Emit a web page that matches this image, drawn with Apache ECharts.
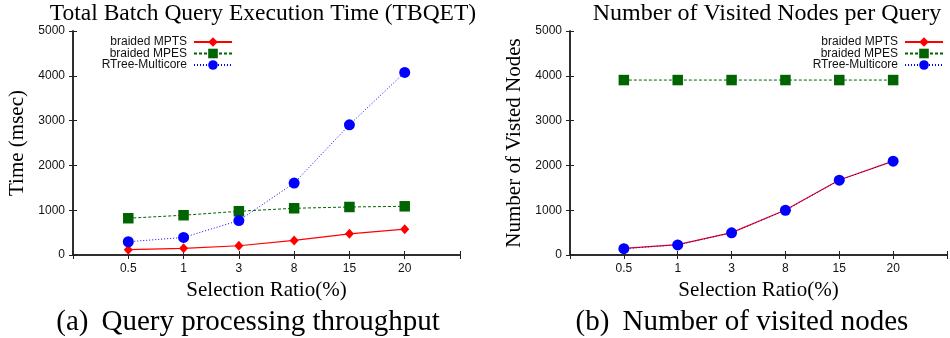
<!DOCTYPE html>
<html>
<head>
<meta charset="utf-8">
<script src="https://cdn.jsdelivr.net/npm/echarts@6/dist/echarts.min.js"></script>
<style>
  html, body { margin: 0; padding: 0; background: #fff; }
  #container { width: 950px; height: 338px; }
</style>
</head>
<body>
<div id="container"></div>
<script>
// selection ratio (%) on the x axis
const ratioList = ['0.5', '1', '3', '8', '15', '20']
const yTicks = [0, 1000, 2000, 3000, 4000, 5000]

// (a) total batch query execution time, msec
const timeMpts = [118, 148, 207, 325, 473, 577]
const timeMpes = [821, 888, 976, 1043, 1072, 1087]
const timeRtree = [296, 392, 769, 1605, 2907, 4076]

// (b) visited nodes per query
const nodesMpts = [148, 232, 500, 1005, 1675, 2095]
const nodesMpes = [3905, 3905, 3905, 3905, 3905, 3905]
const nodesRtree = [140, 226, 494, 999, 1670, 2093]

const serif = '"Liberation Serif", "DejaVu Serif", serif'
const sans = '"Liberation Sans", Arial, sans-serif'

// put each value at its slot 1..6 on a 0..7 value axis
const toPoints = (list) => list.map((v, i) => [i + 1, v])

function xAxes(gridIndex) {
  return [
    {
      gridIndex: gridIndex,
      type: 'value',
      min: 0,
      max: ratioList.length + 1,
      interval: 1,
      name: 'Selection Ratio(%)',
      nameLocation: 'middle',
      nameGap: 19,
      nameTextStyle: { fontFamily: serif, fontSize: 21, color: '#000' },
      axisLine: { lineStyle: { color: '#222', width: 1.5 } },
      axisTick: { inside: true, length: 4, lineStyle: { color: '#222' } },
      axisLabel: {
        margin: 8,
        fontFamily: sans,
        fontSize: 12,
        color: '#111',
        formatter: (v) => ratioList[v - 1] || ''
      },
      splitLine: { show: false }
    },
    {
      gridIndex: gridIndex,
      type: 'value',
      position: 'top',
      min: 0,
      max: ratioList.length + 1,
      interval: 1,
      axisLine: { lineStyle: { color: '#222', width: 1.5 } },
      axisTick: { inside: true, length: 4, lineStyle: { color: '#222' } },
      axisLabel: { show: false },
      splitLine: { show: false }
    }
  ]
}

function yAxes(gridIndex, name, gap) {
  return [
    {
      gridIndex: gridIndex,
      type: 'value',
      min: yTicks[0],
      max: yTicks[yTicks.length - 1],
      interval: yTicks[1] - yTicks[0],
      name: name,
      nameLocation: 'middle',
      nameGap: gap,
      nameTextStyle: { fontFamily: serif, fontSize: 21, color: '#000' },
      axisLine: { show: true, lineStyle: { color: '#222', width: 1.5 } },
      axisTick: { show: true, inside: true, length: 4, lineStyle: { color: '#222' } },
      axisLabel: {
        margin: 8, fontFamily: sans, fontSize: 12, color: '#111',
        formatter: (v) => String(v)
      },
      splitLine: { show: false }
    },
    {
      gridIndex: gridIndex,
      type: 'value',
      position: 'right',
      min: yTicks[0],
      max: yTicks[yTicks.length - 1],
      interval: yTicks[1] - yTicks[0],
      axisLine: { show: true, lineStyle: { color: '#222', width: 1.5 } },
      axisTick: { show: true, inside: true, length: 4, lineStyle: { color: '#222' } },
      axisLabel: { show: false },
      splitLine: { show: false }
    }
  ]
}

function makeSeries(xIndex, yIndex, mpts, mpes, rtree) {
  return [
    {
      name: 'braided MPTS',
      type: 'line',
      xAxisIndex: xIndex,
      yAxisIndex: yIndex,
      data: toPoints(mpts),
      symbol: 'diamond',
      symbolSize: [9, 10],
      color: '#ff0000',
      lineStyle: { color: '#ff0000', width: 1.2, type: 'solid' },
      animation: false
    },
    {
      name: 'braided MPES',
      type: 'line',
      xAxisIndex: xIndex,
      yAxisIndex: yIndex,
      data: toPoints(mpes),
      symbol: 'rect',
      symbolSize: 10.5,
      color: '#006400',
      lineStyle: { color: '#006400', width: 1, type: [3, 2] },
      animation: false
    },
    {
      name: 'RTree-Multicore',
      type: 'line',
      xAxisIndex: xIndex,
      yAxisIndex: yIndex,
      data: toPoints(rtree),
      symbol: 'circle',
      symbolSize: 11,
      color: '#0000ff',
      lineStyle: { color: '#0000ff', width: 1, type: [1, 2] },
      animation: false
    }
  ]
}

function legendAt(right) {
  return {
    orient: 'vertical',
    right: right,
    top: 36,
    padding: 0,
    align: 'right',
    itemWidth: 38,
    itemHeight: 12,
    itemGap: -0.5,
    textStyle: { fontFamily: sans, fontSize: 12, lineHeight: 12, color: '#111', padding: [0, 2, 0, 0] },
    data: ['braided MPTS', 'braided MPES', 'RTree-Multicore']
  }
}

function initChart() {
  var myChart = echarts.init(document.getElementById('container'))
  let option = {
    animation: false,
    title: [
      {
        text: 'Total Batch Query Execution Time (TBQET)',
        left: 258, top: -3, textAlign: 'center',
        textStyle: { fontFamily: serif, fontSize: 23.5, fontWeight: 'normal', color: '#000' }
      },
      {
        text: 'Number of Visited Nodes per Query',
        left: 762, top: -3, textAlign: 'center',
        textStyle: { fontFamily: serif, fontSize: 24, fontWeight: 'normal', color: '#000' }
      },
      {
        text: '(a) \u2009Query processing throughput',
        left: 243, top: 303, textAlign: 'center',
        textStyle: { fontFamily: serif, fontSize: 29, fontWeight: 'normal', color: '#000' }
      },
      {
        text: '(b) \u2009Number of visited nodes',
        left: 737, top: 303, textAlign: 'center',
        textStyle: { fontFamily: serif, fontSize: 29, fontWeight: 'normal', color: '#000' }
      }
    ],
    legend: [legendAt(717), legendAt(6)],
    grid: [
      { left: 73, top: 31, width: 387, height: 224 },
      { left: 570, top: 31, width: 387, height: 224 }
    ],
    xAxis: xAxes(0).concat(xAxes(1)),
    yAxis: yAxes(0, 'Time (msec)', 45).concat(yAxes(1, 'Number of Visted Nodes', 45)),
    series: makeSeries(0, 0, timeMpts, timeMpes, timeRtree)
      .concat(makeSeries(2, 2, nodesMpts, nodesMpes, nodesRtree))
  }
  myChart.setOption(option)
}

initChart()
</script>
</body>
</html>
